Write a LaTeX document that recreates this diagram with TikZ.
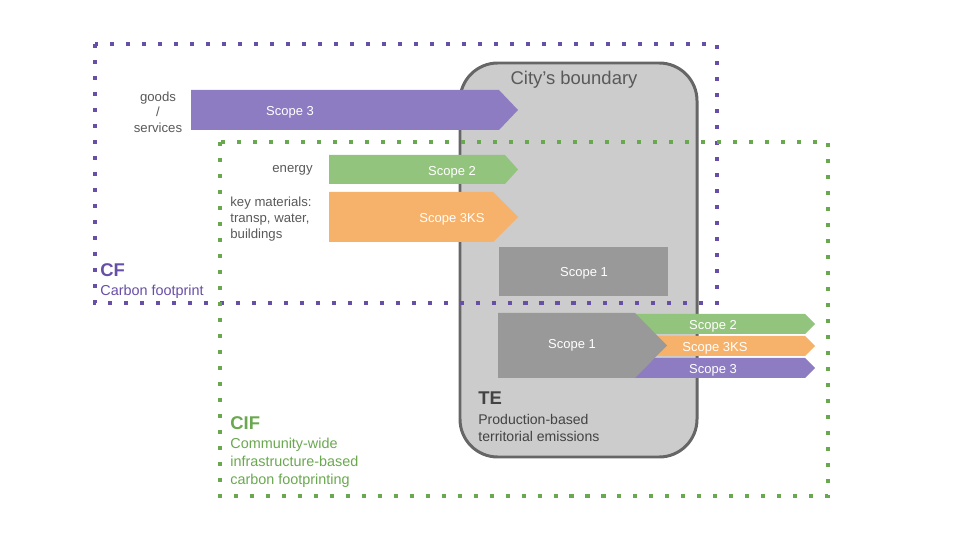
\documentclass[tikz,border=0pt]{standalone}
\usepackage{fontspec}
\setmainfont{Liberation Sans}
\usepackage{tikz}
\usetikzlibrary{positioning}
\usepackage{xcolor}
\definecolor{cfpurple}{HTML}{674EA7}
\definecolor{cifgreen}{HTML}{6AA84F}
\definecolor{scthree}{HTML}{8E7CC3}
\definecolor{sctwo}{HTML}{93C47D}
\definecolor{scks}{HTML}{F6B26B}
\definecolor{scone}{HTML}{999999}
\definecolor{txtgray}{HTML}{595959}
\definecolor{tegray}{HTML}{434343}
\definecolor{citygray}{HTML}{CCCCCC}
\definecolor{cityedge}{HTML}{666666}

\begin{document}
\begin{tikzpicture}[
    x=0.02cm, y=-0.02cm,
    every node/.style={inner sep=0pt, yshift=-1.1pt, font=\fontsize{7.5}{8.9}\selectfont},
    note/.style={text=txtgray, align=left},
    sclabel/.style={text=white, font=\fontsize{7.4}{9}\selectfont},
    title/.style={anchor=west, yshift=1.1pt, font=\fontsize{10.5}{12}\selectfont\bfseries},
    desc/.style={anchor=west, align=left, font=\fontsize{8.2}{10.2}\selectfont},
    dotbox/.style={line width=2.3pt, dash pattern=on 2.3pt off 6.8pt},
    city/.style={fill=citygray, draw=cityedge, line width=1.7pt, rounded corners=21.5pt}
  ]
    \useasboundingbox (0,0) rectangle (960,540);
    % city's boundary
    \draw[city] (460,63) rectangle (697,457);
    \node[text=txtgray, font=\fontsize{10.5}{12}\selectfont] (cityname) at (574,78) {City’s boundary};
    % footprint boundaries
    \draw[dotbox, cfpurple] (95,44) rectangle (717,303);
    \draw[dotbox, cifgreen] (220,142) rectangle (828,496);
    % scopes crossing the boundary
    \fill[scthree] (191,90) -- (499,90) -- (518,110) -- (499,130) -- (191,130) -- cycle;
    \node[sclabel] (sthree) at (290,110) {Scope 3};
    \fill[sctwo] (329,155) -- (505,155) -- (518,169.5) -- (505,184) -- (329,184) -- cycle;
    \node[sclabel] (stwo) at (452,170) {Scope 2};
    \fill[scks] (329,192) -- (493,192) -- (518,217) -- (493,242) -- (329,242) -- cycle;
    \node[sclabel] (sks) at (452,217) {Scope 3KS};
    \fill[scone] (499,247) rectangle (668,296);
    \node[sclabel] (sone) at (584,271) {Scope 1};
    % scopes leaving the boundary
    \fill[sctwo] (630,314) -- (805,314) -- (815,324) -- (805,334) -- (630,334) -- cycle;
    \fill[scks] (630,336) -- (805,336) -- (815,346) -- (805,356) -- (630,356) -- cycle;
    \fill[scthree] (630,358) -- (805,358) -- (815,368) -- (805,378) -- (630,378) -- cycle;
    \fill[scone] (498,313) -- (635,313) -- (667,345.5) -- (635,378) -- (498,378) -- cycle;
    \node[sclabel] (lone) at (572,343) {Scope 1};
    \node[sclabel] (ltwo) at (713,324) {Scope 2};
    \node[sclabel] (lks) at (715,346) {Scope 3KS};
    \node[sclabel] (lthree) at (713,368) {Scope 3};
    % side notes
    \node[note, align=center] (goods) at (158,110) {goods\\/\\services};
    \node[note, anchor=east] (energy) at (313,168) {energy};
    \node[note, anchor=west, font=\fontsize{7.5}{9.1}\selectfont] (keymat) at (230,217) {key materials:\\transp, water,\\buildings};
    % footprint names
    \node[title, text=cfpurple] (cf) at (100,270) {CF};
    \node[desc, text=cfpurple] (cfdesc) at (100,290) {Carbon footprint};
    \node[title, text=cifgreen] (cif) at (230,423) {CIF};
    \node[desc, text=cifgreen] (cifdesc) at (230,461) {Community-wide\\infrastructure-based\\carbon footprinting};
    \node[title, text=tegray] (te) at (478,398) {TE};
    \node[desc, text=tegray, font=\fontsize{8}{10.1}\selectfont] (tedesc) at (478,426) {Production-based\\territorial emissions};
\end{tikzpicture}
\end{document}
